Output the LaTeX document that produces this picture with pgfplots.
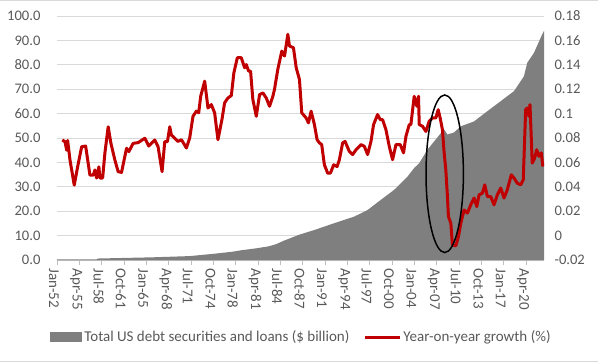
\documentclass[border=0pt]{standalone}
\usepackage{pgfplots}
\pgfplotsset{compat=1.18}
\usepackage{fontspec}
\setmainfont{Carlito}
\definecolor{areagray}{HTML}{7F7F7F}
\definecolor{linered}{HTML}{C00000}
\definecolor{ticktext}{HTML}{595959}
\definecolor{gridgray}{HTML}{D9D9D9}
\definecolor{axisgray}{HTML}{BFBFBF}
\begin{document}
\begin{tikzpicture}
\path[use as bounding box] (0pt,0pt) rectangle (598pt,362pt);
\draw[gridgray, line width=1pt] (0pt,361.5pt) -- (598pt,361.5pt);
\draw[gridgray, line width=1pt] (0pt,0.5pt) -- (598pt,0.5pt);
\begin{axis}[
  at={(57pt,102pt)}, anchor=south west,
  width=487pt, height=244pt, scale only axis,
  xmin=1952, xmax=2022.87, ymin=0, ymax=100,
  axis x line*=bottom, axis y line*=left,
  y axis line style={draw=none},
  x axis line style={draw=axisgray, line width=1pt},
  ytick={0,10,...,100},
  yticklabels={0.0,10.0,20.0,30.0,40.0,50.0,60.0,70.0,80.0,90.0,100.0},
  ytick style={draw=none},
  xtick={1952,1955.25,1958.5,1961.75,1965,1968.25,1971.5,1974.75,1978,1981.25,1984.5,1987.75,1991,1994.25,1997.5,2000.75,2004,2007.25,2010.5,2013.75,2017,2020.25},
  xticklabels={Jan-52,Apr-55,Jul-58,Oct-61,Jan-65,Apr-68,Jul-71,Oct-74,Jan-78,Apr-81,Jul-84,Oct-87,Jan-91,Apr-94,Jul-97,Oct-00,Jan-04,Apr-07,Jul-10,Oct-13,Jan-17,Apr-20},
  xtick style={draw=axisgray, line width=0.8pt},
  tick align=outside, major tick length=5pt,
  xticklabel style={rotate=-90, anchor=west, font=\fontsize{15}{16}\selectfont, text=ticktext, yshift=-3pt},
  yticklabel style={font=\fontsize{14.6}{16}\selectfont, text=ticktext, xshift=-8pt},
  ymajorgrids, grid style={gridgray, line width=1pt},
  legend style={at={(0.502,-0.316)}, anchor=center, draw=none, fill=none,
    font=\fontsize{15}{16}\selectfont, text=ticktext, legend columns=2,
    /tikz/every even column/.append style={column sep=12pt}},
]
\addplot[fill=areagray, draw=none,
  legend image code/.code={\fill[areagray] (0pt,-5pt) rectangle (32pt,5pt);}]
coordinates {
(1952.0,0.3) (1957.8,0.3) (1957.9,0.6) (1965.9,1.1) (1971.3,1.6) (1974.65,2.5)
(1977.56,3.4) (1978.82,4.0) (1981.04,4.8) (1982.8,5.6) (1983.9,6.5) (1985.0,7.9)
(1986.56,9.6) (1987.28,10.4) (1989.46,12.3) (1992.36,15.1) (1995.27,17.8) (1997.20,20.5)
(1999.15,24.7) (2001.08,28.8) (2003.01,34.2) (2003.98,37.7) (2004.71,39.7) (2005.91,45.2)
(2007.86,52.0) (2008.34,53.5) (2008.82,51.4) (2009.79,52.3) (2010.76,54.8) (2012.69,56.8)
(2014.63,61.0) (2016.57,65.1) (2018.50,69.2) (2019.95,75.3) (2020.43,80.8) (2021.41,84.9)
(2022.61,92.5) (2022.87,93.9)
} \closedcycle;
\addlegendentry{Total US debt securities and loans (\$ billion)}
\addlegendimage{legend image code/.code={\draw[linered, line width=3pt] (0pt,0pt) -- (35pt,0pt);}}
\addlegendentry{Year-on-year growth (\%)}
\end{axis}
\begin{axis}[
  at={(57pt,102pt)}, anchor=south west,
  width=487pt, height=244pt, scale only axis,
  xmin=1952, xmax=2022.87, ymin=-0.02, ymax=0.18,
  axis x line=none, axis y line*=right,
  y axis line style={draw=none}, ytick style={draw=none},
  ytick={-0.02,0,0.02,0.04,0.06,0.08,0.1,0.12,0.14,0.16,0.18},
  yticklabels={-0.02,0,0.02,0.04,0.06,0.08,0.1,0.12,0.14,0.16,0.18},
  yticklabel style={font=\fontsize{14.6}{16}\selectfont, text=ticktext, xshift=7pt},
]
\addplot[linered, line width=3pt, line join=round] coordinates {
(1952.77,0.0784) (1953.16,0.077) (1953.41,0.070) (1953.55,0.078) (1953.89,0.062)
(1954.51,0.0414) (1955.01,0.0566) (1955.59,0.0728) (1956.17,0.0734) (1956.54,0.0592)
(1956.79,0.0496) (1957.27,0.0496) (1957.52,0.0538) (1957.76,0.0472) (1958.10,0.0564)
(1958.24,0.0472) (1958.64,0.0472) (1958.97,0.0676) (1959.45,0.0892) (1959.84,0.0758)
(1960.42,0.062) (1960.90,0.0524) (1961.39,0.0518) (1962.12,0.0716) (1962.45,0.0688)
(1963.08,0.0756) (1963.80,0.0762) (1964.78,0.0798) (1965.36,0.0734) (1966.23,0.0784)
(1966.71,0.0728) (1967.29,0.0524) (1967.68,0.077) (1968.07,0.077) (1968.41,0.0892)
(1968.65,0.0824) (1969.13,0.0798) (1969.61,0.0772) (1970.11,0.0786) (1970.83,0.0718)
(1971.31,0.08) (1971.79,0.0978) (1972.28,0.102) (1972.62,0.1006) (1972.91,0.1142)
(1973.49,0.1266) (1973.97,0.1046) (1974.46,0.1074) (1974.94,0.1006) (1975.42,0.0786)
(1976.00,0.095) (1976.39,0.1088) (1976.87,0.1128) (1977.37,0.1148) (1977.74,0.1334)
(1978.24,0.1458) (1978.82,0.1458) (1979.30,0.1376) (1979.55,0.1402) (1979.88,0.1348)
(1980.17,0.1348) (1980.50,0.1116) (1981.00,0.0978) (1981.48,0.1156) (1981.96,0.117)
(1982.45,0.1128) (1982.93,0.106) (1983.41,0.1142) (1983.65,0.1198) (1984.13,0.1362)
(1984.71,0.1512) (1985.11,0.1472) (1985.59,0.165) (1985.83,0.1554) (1986.41,0.154)
(1986.81,0.1376) (1987.28,0.128) (1987.62,0.1006) (1988.26,0.0964) (1988.59,0.0924)
(1988.98,0.102) (1989.46,0.091) (1989.85,0.0786) (1990.19,0.076) (1990.52,0.0746)
(1990.91,0.058) (1991.39,0.0512) (1991.79,0.0512) (1992.26,0.058) (1992.76,0.0566)
(1993.09,0.0622) (1993.57,0.076) (1993.92,0.0772) (1994.54,0.069) (1995.02,0.0664)
(1995.52,0.0704) (1996.24,0.0746) (1996.72,0.0732) (1997.20,0.0664) (1997.69,0.0772)
(1998.07,0.091) (1998.65,0.0992) (1999.05,0.095) (1999.38,0.095) (1999.87,0.0868)
(2000.35,0.0732) (2000.83,0.0622) (2001.33,0.0746) (2001.95,0.0746) (2002.43,0.0678)
(2002.78,0.0814) (2003.26,0.091) (2003.50,0.091) (2003.98,0.1142) (2004.37,0.106)
(2004.61,0.1142) (2004.71,0.091) (2005.19,0.0896) (2005.68,0.0854) (2006.16,0.0936)
(2006.64,0.0964) (2007.13,0.0964) (2007.47,0.1032) (2007.76,0.0964) (2008.09,0.0868)
(2008.34,0.0678) (2008.58,0.054) (2008.82,0.032) (2008.96,0.0156) (2009.31,0.0102)
(2009.54,-0.0076) (2010.04,-0.0084) (2010.42,-0.0008) (2010.76,0.0102) (2011.24,0.021)
(2011.72,0.0184) (2012.21,0.0252) (2012.69,0.0308) (2013.09,0.0238) (2013.42,0.0334)
(2013.90,0.0348) (2014.25,0.0416) (2014.63,0.032) (2015.12,0.032) (2015.60,0.0252)
(2016.08,0.0334) (2016.57,0.039) (2017.05,0.0308) (2017.53,0.0376) (2018.11,0.0498)
(2018.50,0.0472) (2018.98,0.043) (2019.47,0.0416) (2019.85,0.0458) (2020.20,0.1032)
(2020.43,0.1046) (2020.68,0.0978) (2020.83,0.1074) (2021.16,0.0594) (2021.51,0.0636)
(2021.80,0.0704) (2022.13,0.065) (2022.47,0.0678) (2022.71,0.0566)
};
\draw[black, line width=1.5pt] (axis cs:2008.42,0.0507) ellipse [x radius=18.7pt, y radius=78.8pt];
\end{axis}
\end{tikzpicture}
\end{document}
